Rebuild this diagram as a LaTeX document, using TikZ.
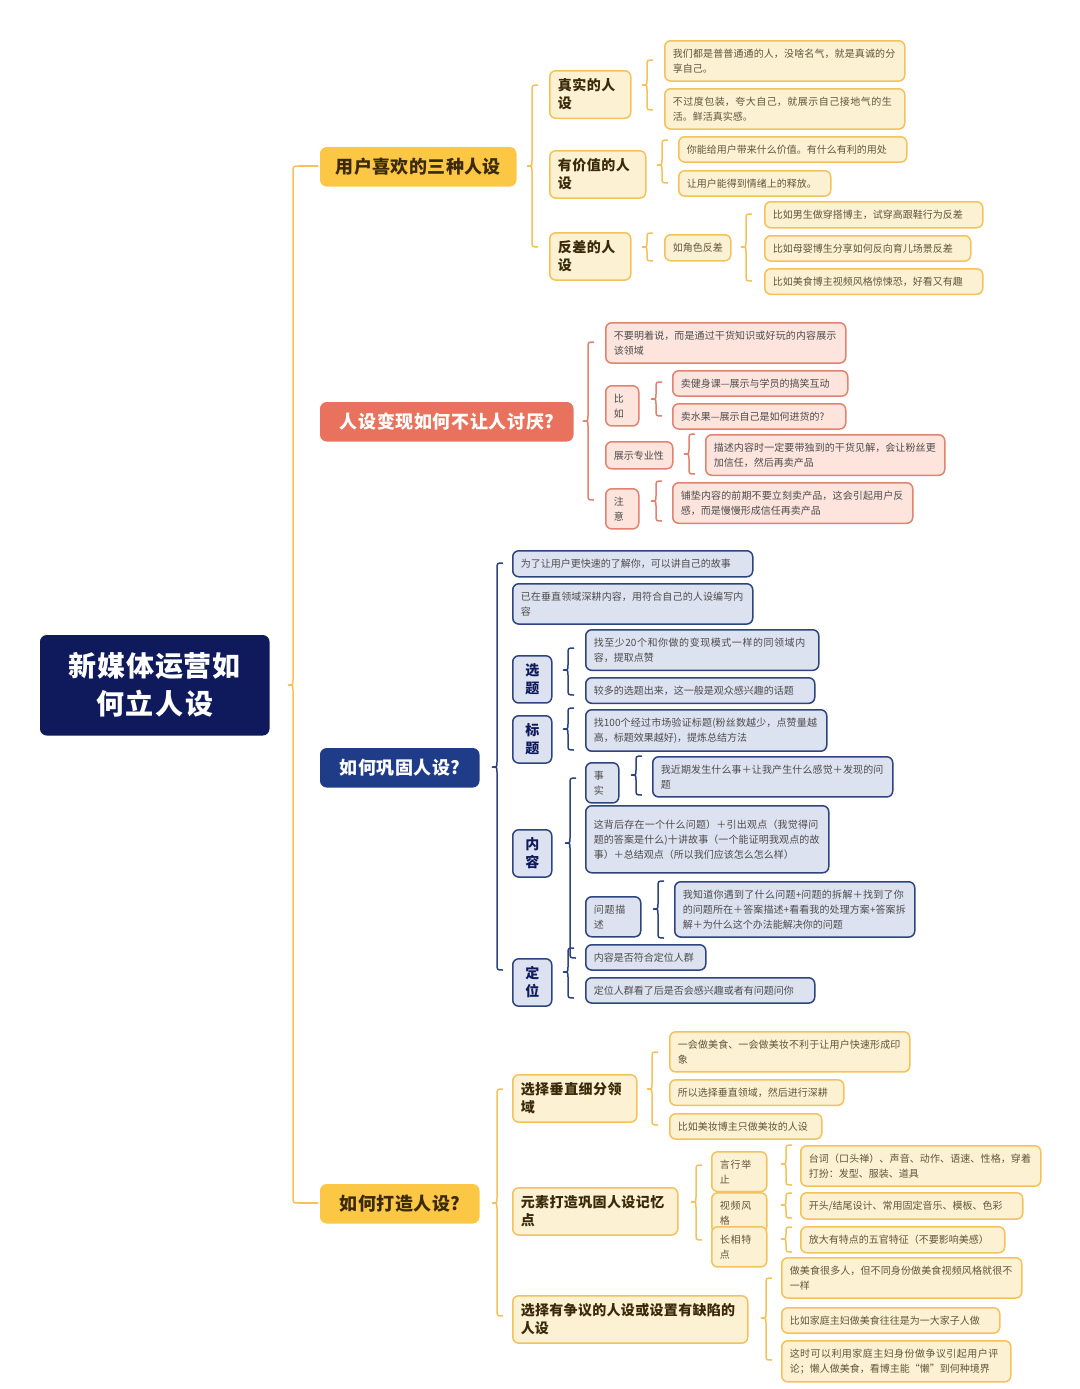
\documentclass[tikz,border=0pt]{standalone}
\usepackage{fontspec}
\setmainfont{Noto Sans CJK SC}
\XeTeXlinebreaklocale "zh"
\XeTeXlinebreakskip=0pt plus 1pt
\definecolor{yb}{HTML}{F4C25A}
\definecolor{yf}{HTML}{FDF1D3}
\definecolor{yh}{HTML}{FCC744}
\definecolor{yt}{HTML}{3A2A0A}
\definecolor{rb}{HTML}{E2826F}
\definecolor{rf}{HTML}{FDE4DD}
\definecolor{rh}{HTML}{E8725E}
\definecolor{bb}{HTML}{2E4480}
\definecolor{bf}{HTML}{DDE2F0}
\definecolor{bh}{HTML}{1F3C88}
\definecolor{rt}{HTML}{0F1A5C}
\tikzset{
 base/.style={rounded corners=3pt,line width=0.75pt,inner sep=4pt,align=left},
 yleaf/.style={base,draw=yb,fill=yf,text=yt!80,font=\fontsize{5}{7.5}\selectfont},
 ysub/.style={base,draw=yb,fill=yf,text=yt,font=\fontsize{7}{9}\selectfont\bfseries},
 yhead/.style={base,draw=yh,fill=yh,text=yt,align=center,font=\fontsize{9}{11}\selectfont\bfseries},
 rleaf/.style={base,draw=rb,fill=rf,text=black!70,font=\fontsize{5}{7.5}\selectfont},
 rhead/.style={base,draw=rh,fill=rh,text=white,align=center,font=\fontsize{9}{11}\selectfont\bfseries},
 bleaf/.style={base,draw=bb,fill=bf,text=black!70,font=\fontsize{5}{7.5}\selectfont},
 bsub/.style={base,draw=bb,fill=bf,text=rt,align=center,font=\fontsize{7}{9}\selectfont\bfseries},
 bhead/.style={base,draw=bh,fill=bh,text=white,align=center,font=\fontsize{9}{11}\selectfont\bfseries},
 roots/.style={base,draw=rt,fill=rt,text=white,align=center,font=\fontsize{14}{19}\selectfont\bfseries},
 ybr/.style={draw=yb,line width=0.75pt},
 rbr/.style={draw=rb,line width=0.75pt},
 bbr/.style={draw=bb,line width=0.75pt},
}
\newcommand\bx[7]{%
 \pgfmathsetmacro\bw{(#5-#3)*0.5}\pgfmathsetmacro\bh{(#6-#4)*0.5}\pgfmathsetmacro\tw{(#5-#3)*0.5-8}%
 \node[#2,anchor=north west,minimum width=\bw pt,minimum height=\bh pt,text width=\tw pt] (#1) at (#3,#4) {#7};}
\newcommand\brc[5]{%
 \draw[#1] ({#2+6},#3) .. controls (#2,#3) .. (#2,{#3+6}) -- (#2,{#5-5}) .. controls (#2,#5) .. ({#2-5},#5) .. controls (#2,#5) .. (#2,{#5+5}) -- (#2,{#4-6}) .. controls (#2,#4) .. ({#2+6},#4);}
\begin{document}
\begin{tikzpicture}[x=0.5pt,y=-0.5pt]
\useasboundingbox[fill=white] (0,0) rectangle (1080,1389);
% root
\bx{root}{roots}{40}{635}{268}{734}{新媒体运营如\\何立人设}
\brc{ybr}{293}{166}{1203}{685}
\draw[ybr] (299,166) -- (318,166);
\draw[ybr] (299,1203) -- (318,1203);
% H1
\bx{h1}{yhead}{320}{147}{515}{185}{用户喜欢的三种人设}
\brc{ybr}{532}{85}{247}{166}
\bx{s11}{ysub}{549}{70}{630}{100}{真实的人设}
\bx{s12}{ysub}{549}{150}{645}{180}{有价值的人设}
\bx{s13}{ysub}{549}{232}{630}{262}{反差的人设}
\brc{ybr}{647}{60}{110}{85}
\bx{l111}{yleaf}{664}{40}{904}{80}{我们都是普普通通的人，没啥名气，就是真诚的分享自己。}
\bx{l112}{yleaf}{664}{88}{904}{128}{不过度包装，夸大自己，就展示自己接地气的生活。鲜活真实感。}
\brc{ybr}{662}{140}{183}{165}
\bx{l121}{yleaf}{678}{136}{906}{160}{你能给用户带来什么价值。有什么有利的用处}
\bx{l122}{yleaf}{678}{170}{830}{194}{让用户能得到情绪上的释放。}
\brc{ybr}{647}{233}{261}{247}
\bx{l131}{yleaf}{664}{234}{730}{260}{如角色反差}
\brc{ybr}{746}{214}{281}{247}
\bx{l1311}{yleaf}{764}{201}{982}{227}{比如男生做穿搭博主，试穿高跟鞋行为反差}
\bx{l1312}{yleaf}{764}{235}{970}{260}{比如母婴博生分享如何反向育儿场景反差}
\bx{l1313}{yleaf}{764}{268}{982}{293}{比如美食博主视频风格惊悚恐，好看又有趣}
% H2
\bx{h2}{rhead}{320}{402}{572}{440}{人设变现如何不让人讨厌?}
\brc{rbr}{588}{342}{500}{421}
\bx{l21}{rleaf}{605}{322}{845}{362}{不要明着说，而是通过干货知识或好玩的内容展示该领域}
\bx{s22}{rleaf}{605}{385}{638}{412}{比如}
\bx{s23}{rleaf}{605}{441}{672}{468}{展示专业性}
\bx{s24}{rleaf}{605}{488}{638}{514}{注意}
\brc{rbr}{656}{382}{416}{399}
\bx{l221}{rleaf}{672}{370}{847}{394}{卖健身课—展示与学员的搞笑互动}
\bx{l222}{rleaf}{672}{403}{845}{428}{卖水果—展示自己是如何进货的?}
\brc{rbr}{689}{434}{474}{454}
\bx{l231}{rleaf}{705}{434}{944}{474}{描述内容时一定要带独到的干货见解，会让粉丝更加信任，然后再卖产品}
\brc{rbr}{656}{481}{521}{501}
\bx{l241}{rleaf}{672}{482}{912}{521}{铺垫内容的前期不要立刻卖产品，这会引起用户反感，而是慢慢形成信任再卖产品}
% H3
\bx{h3}{bhead}{320}{748}{478}{786}{如何巩固人设?}
\brc{bbr}{497}{563}{970}{767}
\bx{l31}{bleaf}{512}{550}{752}{576}{为了让用户更快速的了解你，可以讲自己的故事}
\bx{l32}{bleaf}{512}{583}{752}{622}{已在垂直领域深耕内容，用符合自己的人设编写内容}
\bx{s33}{bsub}{512}{655}{551}{684}{选题}
\bx{s34}{bsub}{512}{715}{551}{744}{标题}
\bx{s35}{bsub}{512}{829}{551}{858}{内容}
\bx{s36}{bsub}{512}{958}{551}{987}{定位}
\brc{bbr}{568}{648}{695}{670}
\bx{l331}{bleaf}{585}{629}{818}{668}{找至少20个和你做的变现模式一样的同领域内容，提取点赞}
\bx{l332}{bleaf}{585}{677}{814}{702}{较多的选题出来，这一般是观众感兴趣的话题}
\brc{bbr}{568}{708}{750}{729}
\bx{l341}{bleaf}{585}{709}{826}{748}{找100个经过市场验证标题(粉丝数越少，点赞量越高，标题效果越好)，提炼总结方法}
\brc{bbr}{570}{778}{958}{843}
\bx{s351}{bleaf}{585}{762}{618}{789}{事实}
\bx{l352}{bleaf}{585}{805}{828}{872}{这背后存在一个什么问题）＋引出观点（我觉得问题的答案是什么)十讲故事（一个能证明我观点的故事）＋总结观点（所以我们应该怎么怎么样）}
\bx{s353}{bleaf}{585}{896}{640}{922}{问题描述}
\brc{bbr}{636}{756}{795}{775}
\bx{l3511}{bleaf}{652}{756}{892}{795}{我近期发生什么事＋让我产生什么感觉＋发现的问题}
\brc{bbr}{658}{881}{938}{909}
\bx{l3531}{bleaf}{674}{881}{914}{936}{我知道你遇到了什么问题+问题的拆解＋找到了你的问题所在＋答案描述+看看我的处理方案+答案拆解＋为什么这个办法能解决你的问题}
\brc{bbr}{568}{948}{998}{972}
\bx{l361}{bleaf}{585}{944}{705}{968}{内容是否符合定位人群}
\bx{l362}{bleaf}{585}{977}{814}{1001}{定位人群看了后是否会感兴趣或者有问题问你}
% H4
\bx{h4}{yhead}{320}{1184}{478}{1222}{如何打造人设?}
\brc{ybr}{497}{1089}{1316}{1203}
\bx{s41}{ysub}{512}{1074}{636}{1104}{选择垂直细分领域}
\bx{s42}{ysub}{512}{1187}{677}{1217}{元素打造巩固人设记忆点}
\bx{s43}{ysub}{512}{1295}{747}{1342}{选择有争议的人设或设置有缺陷的人设}
\brc{ybr}{652}{1052}{1125}{1089}
\bx{l411}{yleaf}{669}{1031}{909}{1070}{一会做美食、一会做美妆不利于让用户快速形成印象}
\bx{l412}{yleaf}{669}{1079}{843}{1104}{所以选择垂直领域，然后进行深耕}
\bx{l413}{yleaf}{669}{1113}{821}{1138}{比如美妆博主只做美妆的人设}
\brc{ybr}{696}{1165}{1240}{1202}
\bx{s421}{yleaf}{711}{1151}{766}{1177}{言行举止}
\bx{s422}{yleaf}{711}{1192}{766}{1218}{视频风格}
\bx{s423}{yleaf}{711}{1226}{766}{1252}{长相特点}
\brc{ybr}{786}{1145}{1185}{1164}
\bx{l4211}{yleaf}{800}{1145}{1040}{1184}{台词（口头禅）、声音、动作、语速、性格，穿着打扮：发型、服装、道具}
\brc{ybr}{786}{1193}{1218}{1205}
\bx{l4221}{yleaf}{800}{1192}{1022}{1218}{开头/结尾设计、常用固定音乐、模板、色彩}
\brc{ybr}{786}{1227}{1252}{1239}
\bx{l4231}{yleaf}{800}{1226}{1004}{1252}{放大有特点的五官特征（不要影响美感）}
\brc{ybr}{766}{1278}{1360}{1318}
\bx{l431}{yleaf}{781}{1257}{1021}{1297}{做美食很多人，但不同身份做美食视频风格就很不一样}
\bx{l432}{yleaf}{781}{1307}{999}{1332}{比如家庭主妇做美食往往是为一大家子人做}
\bx{l433}{yleaf}{781}{1340}{1010}{1380}{这时可以利用家庭主妇身份做争议引起用户评论；懒人做美食，看博主能“懒”到何种境界}
\end{tikzpicture}
\end{document}
